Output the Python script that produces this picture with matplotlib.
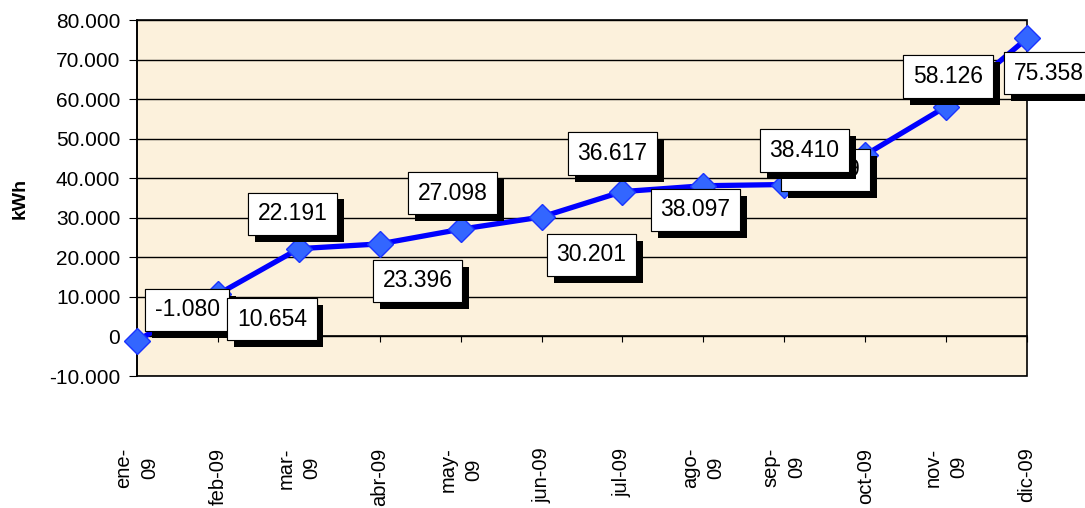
import matplotlib.pyplot as plt
import matplotlib.patheffects as pe
from matplotlib.ticker import FuncFormatter, MultipleLocator

months = ["ene-\n09", "feb-09", "mar-\n09", "abr-09", "may-\n09", "jun-09",
          "jul-09", "ago-\n09", "sep-\n09", "oct-09", "nov-\n09", "dic-09"]
kwh = [-1080, 10654, 22191, 23396, 27098, 30201,
       36617, 38097, 38410, 45879, 58126, 75358]
# where each data label sits relative to its point (pixels)
label_dx = [50, 54, -6, 38, -8, 50, -10, -8, 20, -40, 2, 22]
label_dy = [31, -25, 35, -37, 36, -38, 38, -24, 34, -15, 30, -35]


def fmt(v, pos=None):
    if v == 0:
        return "0"
    return f"{v:,.0f}".replace(",", ".")


def main():
    plt.rcParams["font.family"] = ["Liberation Sans", "DejaVu Sans"]
    fig = plt.figure(figsize=(10.85, 5.08), dpi=100)
    ax = fig.add_axes([137 / 1085, 1 - 376 / 508, 890 / 1085, 356 / 508])
    ax.set_facecolor("#fcf1dc")
    ax.patch.set_edgecolor("black")
    ax.patch.set_linewidth(1.2)

    x = list(range(len(kwh)))
    ax.plot(x, kwh, color="#0000ff", lw=3.8, zorder=3,
            marker="D", ms=13, mfc="#3366ff", mec="#1a33ff", mew=1,
            clip_on=False)

    ax.set_xlim(0, len(kwh) - 1)
    ax.set_ylim(-10000, 80000)
    ax.yaxis.set_major_locator(MultipleLocator(10000))
    ax.yaxis.set_major_formatter(FuncFormatter(fmt))
    ax.grid(axis="y", color="black", lw=1)
    ax.set_axisbelow(True)

    for s in ["top", "right"]:
        ax.spines[s].set_visible(False)
    ax.spines["left"].set_linewidth(1.2)
    ax.spines["bottom"].set_position(("data", 0))
    ax.spines["bottom"].set_linewidth(1.2)

    ax.set_xticks(x)
    ax.set_xticklabels(months, rotation=90, multialignment="center",
                       linespacing=1.45)
    ax.tick_params(axis="x", direction="out", length=4, pad=76, labelsize=14.5)
    ax.tick_params(axis="y", direction="out", length=6, pad=6, labelsize=15)
    ax.set_ylabel("kWh", fontsize=14, fontweight="bold", labelpad=15)

    # labels drawn on top of the line; sep's box sits over oct's as in the original
    for i in range(len(kwh)):
        z = 6 if i == 8 else 5
        t = ax.annotate(fmt(kwh[i]), (x[i], kwh[i]),
                        xytext=(label_dx[i], label_dy[i]),
                        textcoords="offset pixels", ha="center", va="center",
                        fontsize=16.5, zorder=z, annotation_clip=False,
                        bbox=dict(boxstyle="square,pad=0.42", fc="white",
                                  ec="black", lw=0.8))
        t.get_bbox_patch().set_path_effects(
            [pe.withSimplePatchShadow(offset=(5, -5), shadow_rgbFace="black",
                                      alpha=1), pe.Normal()])

    fig.savefig("out.png", dpi=100)
    plt.close()


if __name__ == "__main__":
    main()
